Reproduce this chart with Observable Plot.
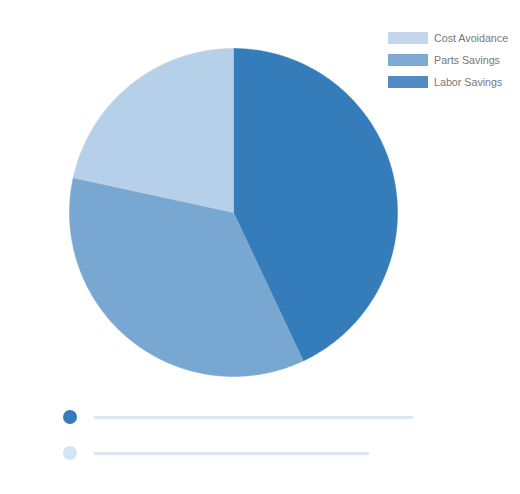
<!DOCTYPE html>
<html>
<head>
<meta charset="utf-8">
<script src="https://cdn.jsdelivr.net/npm/d3@7"></script>
<script src="https://cdn.jsdelivr.net/npm/@observablehq/plot@0.6"></script>
<style>
  html, body { margin: 0; padding: 0; background: #fff; }
  #wrap { position: relative; width: 520px; height: 494px; overflow: hidden; font-family: "Liberation Sans", Arial, sans-serif; }
  #legend { position: absolute; left: 388px; top: 32px; }
  .lg-row { display: flex; align-items: center; height: 12px; margin-bottom: 10px; }
  .lg-sw { width: 40px; height: 12px; margin-right: 6px; }
  .lg-tx { font-size: 10.7px; color: #777; line-height: 12px; white-space: nowrap; }
  .sk { position: absolute; }
</style>
</head>
<body>
<div id="wrap">
  <div id="chart"></div>
  <div id="legend"></div>
  <div id="skeleton"></div>
</div>
<script>
// Data (pie order: clockwise from 12 o'clock)
const categories = ["Labor Savings", "Parts Savings", "Cost Avoidance"];
const values = [43.0, 35.4, 21.6];
const sliceColors = ["#357cba", "#78a8d2", "#b7d0ea"];
// Legend order and colors (as shown at top right)
const legendLabels = ["Cost Avoidance", "Parts Savings", "Labor Savings"];
const legendColors = ["#c2d7ec", "#7eaad3", "#548ac3"];

const rows = categories.map((c, i) => ({category: c, value: values[i]}));
const arcs = d3.pie().value(d => d.value).sort(null)(rows);

// Build polygon vertices for each slice in unit-circle coordinates
const pts = [];
for (const a of arcs) {
  const key = a.data.category;
  pts.push({key, x: 0, y: 0});
  const n = Math.max(8, Math.ceil((a.endAngle - a.startAngle) / 0.01));
  for (let k = 0; k <= n; k++) {
    const t = a.startAngle + (a.endAngle - a.startAngle) * k / n;
    pts.push({key, x: Math.sin(t), y: Math.cos(t)});
  }
  pts.push({key, x: 0, y: 0});
}

const cx = 233, cy = 212, r = 164;
const chart = Plot.plot({
  width: 520,
  height: 390,
  margin: 0,
  x: {domain: [-1, 1], range: [cx - r, cx + r], axis: null},
  y: {domain: [-1, 1], range: [cy + r, cy - r], axis: null},
  color: {domain: categories, range: sliceColors},
  marks: [
    Plot.line(pts, {x: "x", y: "y", z: "key", fill: "key", stroke: "key", strokeWidth: 0.5, curve: "linear"})
  ]
});
document.getElementById("chart").appendChild(chart);

// Legend
const lg = document.getElementById("legend");
legendLabels.forEach((l, i) => {
  const row = document.createElement("div");
  row.className = "lg-row";
  row.innerHTML = `<div class="lg-sw" style="background:${legendColors[i]}"></div><div class="lg-tx">${l}</div>`;
  lg.appendChild(row);
});

// Placeholder rows at the bottom
const sk = document.getElementById("skeleton");
const skRows = [
  {top: 417, dot: "#357cba", lineEnd: 413},
  {top: 453, dot: "#d2e3f7", lineEnd: 369}
];
skRows.forEach(s => {
  const d = document.createElement("div");
  d.className = "sk";
  d.style.cssText = `left:63px;top:${s.top - 7}px;width:14px;height:14px;border-radius:50%;background:${s.dot}`;
  sk.appendChild(d);
  const ln = document.createElement("div");
  ln.className = "sk";
  ln.style.cssText = `left:94px;top:${s.top - 1.5}px;width:${s.lineEnd - 94}px;height:3px;background:#dde6f1`;
  sk.appendChild(ln);
});
</script>
</body>
</html>
